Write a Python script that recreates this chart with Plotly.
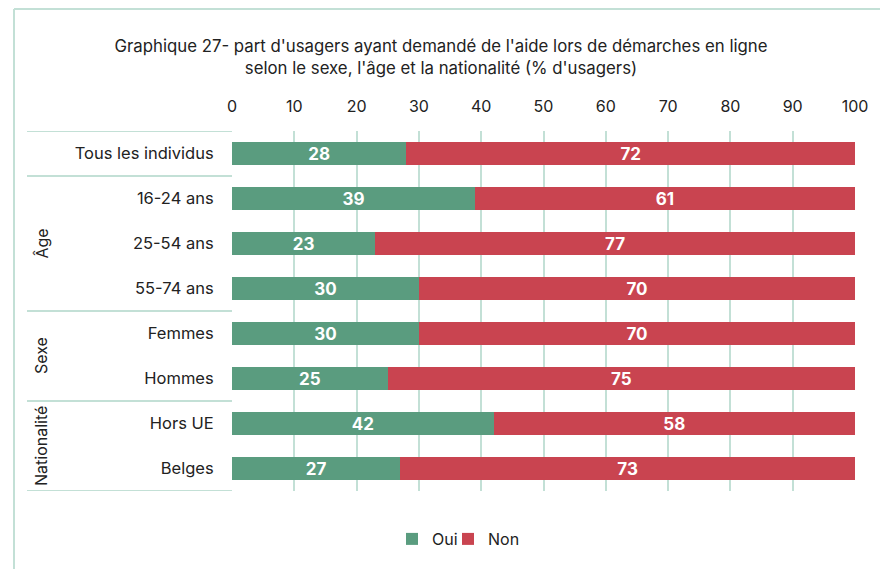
import plotly.graph_objects as go

categories = ["Tous les individus", "16-24 ans", "25-54 ans", "55-74 ans",
              "Femmes", "Hommes", "Hors UE", "Belges"]
oui = [28, 39, 23, 30, 30, 25, 42, 27]
non = [72, 61, 77, 70, 70, 75, 58, 73]
groups = [("Âge", 2), ("Sexe", 4.5), ("Nationalité", 6.5)]
separators = [-0.5, 0.5, 3.5, 5.5, 7.5]
x_ticks = list(range(0, 101, 10))

GREEN = "#5a9c7f"
RED = "#c94450"
LINE = "#c3e0d6"
FONT = "Inter"
OFF = 8  # default body margin of the page

fig = go.Figure()
for name, vals, col, leg in (("Oui", oui, GREEN, "legend"), ("Non", non, RED, "legend2")):
    fig.add_trace(go.Bar(y=categories, x=vals, orientation="h", name=name,
                         marker=dict(color=col, line=dict(width=0)),
                         text=vals, textposition="inside", insidetextanchor="middle",
                         textangle=0, constraintext="none", legend=leg, showlegend=True,
                         textfont=dict(color="white", size=17, family=FONT, weight="bold")))

W, H = 888 - OFF, 569 - OFF
L, R, T, B = 232 - OFF, 855 - OFF, 131 - OFF, 491 - OFF
pw, ph = R - L, B - T

def px_x(px):
    return (px - OFF - L) / pw

def px_y(py):
    return (B - (py - OFF)) / ph

shapes = []
for s in separators:
    shapes.append(dict(type="line", xref="paper", yref="y", x0=px_x(27), x1=0,
                       y0=s, y1=s, line=dict(color=LINE, width=2)))
shapes.append(dict(type="line", xref="paper", yref="paper", x0=px_x(14), x1=px_x(14),
                   y0=px_y(9), y1=px_y(600), line=dict(color=LINE, width=2)))
shapes.append(dict(type="line", xref="paper", yref="paper", x0=px_x(14), x1=px_x(900),
                   y0=px_y(9), y1=px_y(9), line=dict(color=LINE, width=2)))

annotations = []
for name, pos in groups:
    annotations.append(dict(text=name, xref="paper", yref="y", x=px_x(41), y=pos,
                            xanchor="center", yanchor="middle",
                            textangle=-90, showarrow=False,
                            font=dict(size=16, color="#222", family=FONT)))

legend_common = dict(orientation="h", xanchor="left", y=px_y(539), yanchor="middle",
                     font=dict(size=16, color="#222"), itemwidth=30,
                     bgcolor="rgba(0,0,0,0)")

fig.update_layout(
    width=W, height=H,
    margin=dict(l=L, r=W - R, t=T, b=H - B),
    paper_bgcolor="white", plot_bgcolor="white",
    barmode="stack", bargap=0.5, showlegend=True,
    font=dict(family=FONT, size=16, color="#222"),
    title=dict(text="Graphique 27- part d'usagers ayant demandé de l'aide lors de démarches en ligne<br>"
                    "selon le sexe, l'âge et la nationalité (% d'usagers)",
               x=(441 - OFF) / W, xanchor="center", y=1 - (52 - OFF) / H, yanchor="middle",
               font=dict(size=16.8, color="#222", family=FONT)),
    xaxis=dict(side="top", range=[0, 100], tickvals=x_ticks, showgrid=True,
               gridcolor=LINE, gridwidth=2, zeroline=False, showline=False,
               ticks="outside", ticklen=12, tickcolor="rgba(0,0,0,0)",
               tickfont=dict(size=16, color="#222")),
    yaxis=dict(categoryorder="array", categoryarray=categories,
               range=[7.5, -0.5], showgrid=False, zeroline=False, showline=False,
               ticks="outside", ticklen=14, tickcolor="rgba(0,0,0,0)",
               tickfont=dict(size=16.5, color="#222")),
    legend=dict(x=px_x(392), **legend_common),
    legend2=dict(x=px_x(448), **legend_common),
    shapes=shapes, annotations=annotations,
)

fig.write_html("out.html")
